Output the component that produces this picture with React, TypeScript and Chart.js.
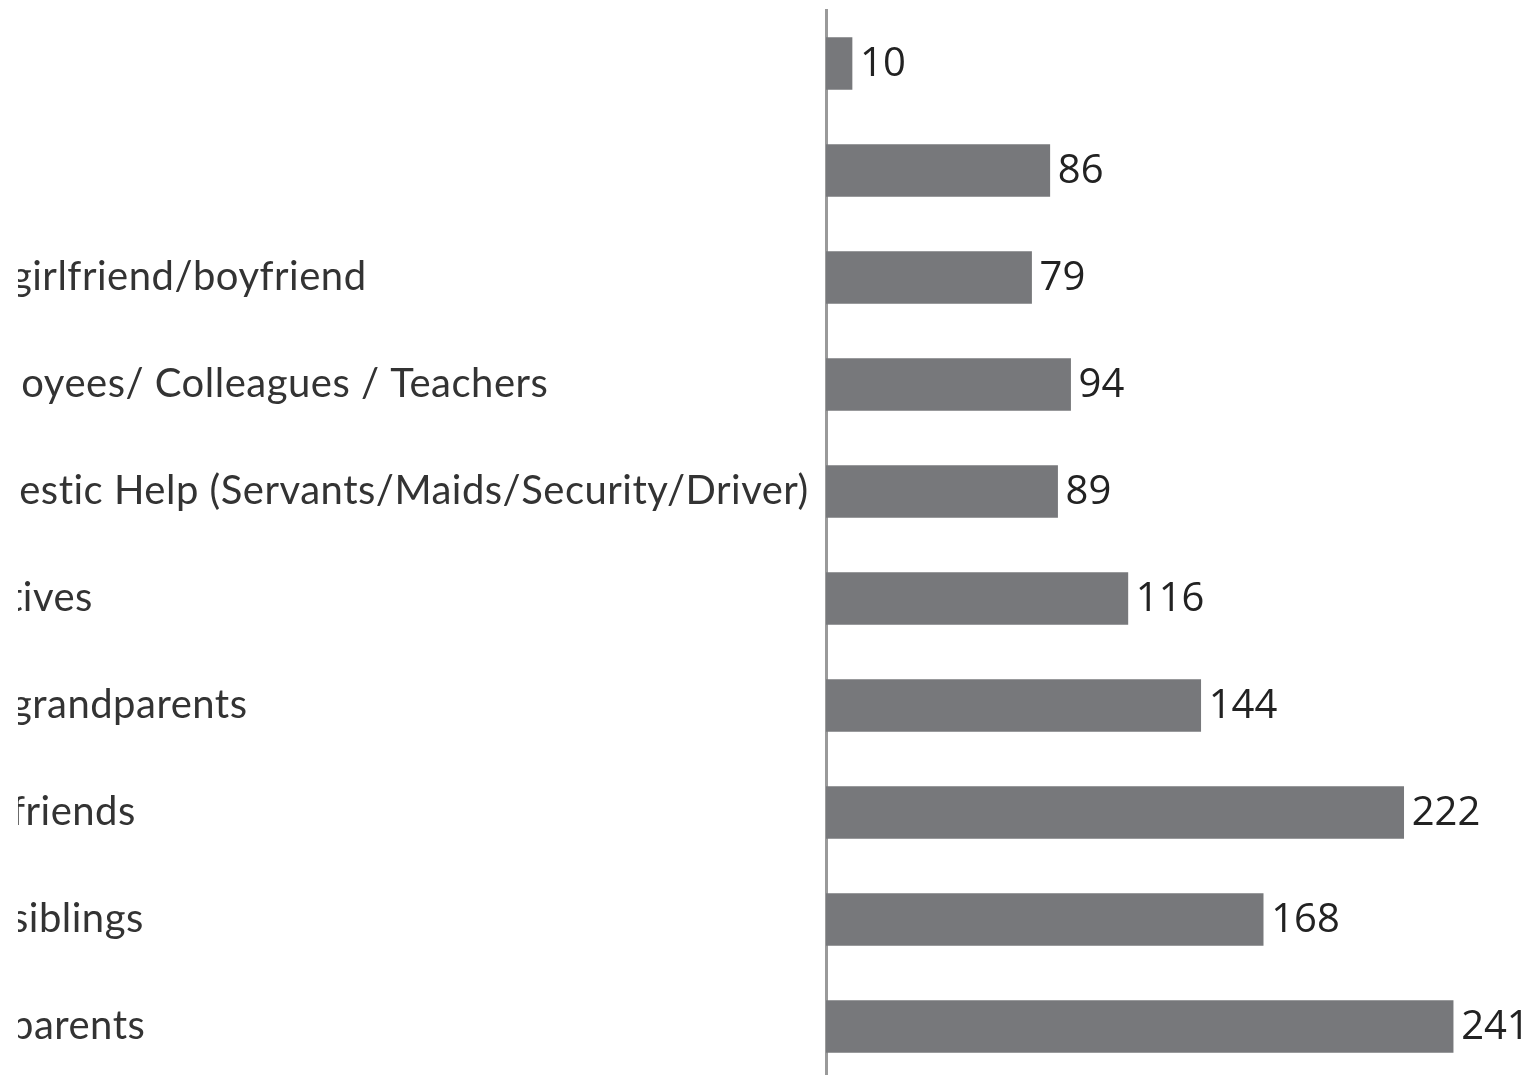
import React, { useEffect, useRef } from "react";
import { Chart, registerables } from "chart.js";

Chart.register(...registerables);

const categories: string[] = [
  "",
  "",
  "The girlfriend/boyfriend",
  "Employees/ Colleagues / Teachers",
  "Domestic Help (Servants/Maids/Security/Driver)",
  "Relatives",
  "The grandparents",
  "The friends",
  "The siblings",
  "The parents",
];
const values: number[] = [10, 86, 79, 94, 89, 116, 144, 222, 168, 241];
const xMin = 0;
const xMax = 274;

const CLIP_LEFT = 18;
const HIDDEN = 86;
const AXIS_X = 826;
const VIEW_W = 1539;
const VIEW_H = 1075;
const CANVAS_W = VIEW_W - CLIP_LEFT + HIDDEN;
const CANVAS_H = 1080;

const letterSpacingPlugin = {
  id: "letterSpacing",
  beforeDraw(chart: any) {
    (chart.ctx as any).letterSpacing = "0.5px";
  },
};

const valueLabels = {
  id: "valueLabels",
  afterDatasetsDraw(chart: any) {
    const ctx = chart.ctx;
    const meta = chart.getDatasetMeta(0);
    ctx.save();
    (ctx as any).letterSpacing = "0px";
    ctx.font = '40px "Open Sans"';
    ctx.fillStyle = "#222222";
    ctx.textAlign = "left";
    ctx.textBaseline = "middle";
    meta.data.forEach((bar: any, i: number) => {
      ctx.fillText(String(chart.data.datasets[0].data[i]), bar.x + 8, bar.y + 1);
    });
    ctx.restore();
  },
};

export default function App() {
  const ref = useRef<HTMLCanvasElement>(null);
  useEffect(() => {
    if (!ref.current) return;
    const chart = new Chart(ref.current, {
      type: "bar",
      data: {
        labels: categories,
        datasets: [
          {
            data: values,
            backgroundColor: "#77787b",
            borderWidth: 0,
            barThickness: 52,
          },
        ],
      },
      options: {
        indexAxis: "y",
        animation: false,
        responsive: false,
        layout: { padding: { top: 10, bottom: 0, left: 0, right: 0 } },
        plugins: { legend: { display: false }, tooltip: { enabled: false } },
        scales: {
          x: { display: false, min: xMin, max: xMax },
          y: {
            afterFit: (scale: any) => {
              scale.width = AXIS_X - CLIP_LEFT + HIDDEN;
              scale.paddingTop = 0;
              scale.paddingBottom = 0;
            },
            grid: { display: false, drawTicks: false },
            border: { display: true, color: "#9a9a9a", width: 3 },
            ticks: {
              crossAlign: "far",
              padding: 0,
              color: "#333333",
              font: { family: "Lato", size: 40 },
            },
          },
        },
      },
      plugins: [letterSpacingPlugin, valueLabels],
    });
    return () => chart.destroy();
  }, []);
  return (
    <div
      style={{
        position: "absolute",
        left: CLIP_LEFT,
        top: 0,
        width: VIEW_W - CLIP_LEFT,
        height: VIEW_H,
        overflow: "hidden",
        background: "#fff",
      }}
    >
      <canvas
        ref={ref}
        width={CANVAS_W}
        height={CANVAS_H}
        style={{ position: "absolute", left: -HIDDEN, top: 0, width: CANVAS_W, height: CANVAS_H }}
      />
    </div>
  );
}
